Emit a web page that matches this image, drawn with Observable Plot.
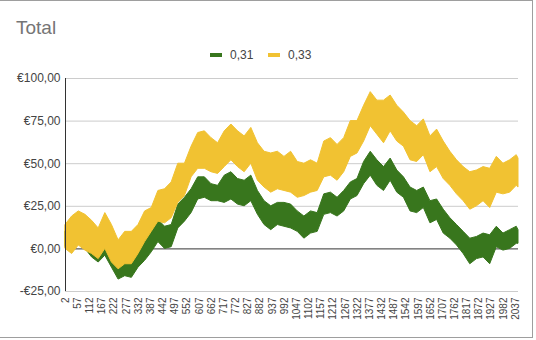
<!DOCTYPE html>
<html>
<head>
<meta charset="utf-8">
<script src="https://cdn.jsdelivr.net/npm/d3@7"></script>
<script src="https://cdn.jsdelivr.net/npm/@observablehq/plot@0.6"></script>
<style>
  body { margin: 0; background: #fff; font-family: "Liberation Sans", Arial, sans-serif; }
  #wrap { position: relative; width: 536px; height: 340px; overflow: hidden; background: #fff; }
  #frame { position: absolute; left: -1px; top: 0; width: 534px; height: 338px; border: 1px solid #9e9e9e; box-sizing: border-box; pointer-events: none; }
  #title { position: absolute; left: 16px; top: 18px; font-size: 19px; line-height: 19px; color: #757575; white-space: nowrap; }
  .lg-sw { position: absolute; width: 12px; height: 4px; top: 53px; }
  .lg-tx { position: absolute; top: 49px; font-size: 12px; line-height: 12px; color: #444; white-space: nowrap; }
  #chart { position: absolute; left: 0; top: 0; }
</style>
</head>
<body>
<div id="wrap">
  <div id="chart"></div>
  <div id="title">Total</div>
  <div id="legend"></div>
  <div id="frame"></div>
</div>
<script>
// Series names and colours
const seriesNames = ["0,31", "0,33"];
const seriesColors = ["#38761d", "#f1c232"];

// Sample positions (row index on the x axis)
const idx = [2,32,62,92,122,152,182,212,242,272,302,332,362,392,422,452,482,512,542,572,
  602,632,662,692,722,752,782,812,842,872,902,932,962,992,1022,1052,1082,1112,1142,1172,
  1202,1232,1262,1292,1322,1352,1382,1412,1442,1472,1502,1532,1562,1592,1622,1652,1682,1712,1742,1772,
  1802,1832,1862,1892,1922,1952,1982,2012,2042,2050];

// Series "0,33" (yellow): upper and lower envelope of the dense trace
const yellowHi = [14,19,22,20,16.5,12,21,14,5,10,10,14,22,24,34,35,39,50,50,60,
  68,69,65,62,69,73,69,66,71,62,57,56,57,54,57,51,50,52,50,63,
  65,61,65,75,75,84,92,87,87,90,84,80,75,72,76,66,70,63,57,52,
  48,45,46,48,47,54,50,52,55,53];
const yellowLo = [0,-3,2,-1,-3,-6,0,-8,-12,-9,-9,-3,4,10,16,15,18,27,31,42,
  47,47,45,44,48,52,48,45,50,40,36,33,35,34,33,30,31,33,34,42,
  43,40,45,54,56,63,72,67,62,69,63,60,52,51,55,45,48,41,37,32,
  28,23,25,28,24,33,32,33,37,36];

// Series "0,31" (green): upper and lower envelope of the dense trace
const greenHi = [10,8,13,11,8,5,9,2,-5,-3,-4,2,6,10,17,13,14,26,30,35,
  42,42,38,37,43,45,41,40,43,34,28,25,27,27,26,22,19,22,21,32,
  33,30,34,39,41,51,57,52,48,53,46,42,36,34,36,28,29,23,18,14,
  10,6,7,9,8,13,9,11,13,11];
const greenLo = [1,-2,3,0,-5,-8,-4,-11,-18,-16,-17,-11,-7,-2,4,0,1,12,16,21,
  29,30,28,28,27,29,26,25,28,20,14,11,14,13,12,10,6,9,10,20,
  21,19,22,29,31,38,43,37,34,40,33,30,22,21,24,15,17,9,6,2,
  -3,-9,-6,-5,-9,1,-1,0,3,3];

// Axis ticks
const xTicks = [2,57,112,167,222,277,332,387,442,497,552,607,662,717,772,827,882,937,992,1047,
  1102,1157,1212,1267,1322,1377,1432,1487,1542,1597,1652,1707,1762,1817,1872,1927,1982,2037];
const yTicks = [-25, 0, 25, 50, 75, 100];

const green = idx.map((x, i) => ({x, lo: greenLo[i], hi: greenHi[i]}));
const yellow = idx.map((x, i) => ({x, lo: yellowLo[i], hi: yellowHi[i]}));

const euro = v => (v < 0 ? "-" : "") + "€" + Math.abs(v).toFixed(2).replace(".", ",");

const chart = Plot.plot({
  width: 536,
  height: 340,
  marginLeft: 65,
  marginRight: 18,
  marginTop: 78,
  marginBottom: 49,
  x: {domain: [2, 2050]},
  y: {domain: [-25, 100]},
  style: {fontFamily: '"Liberation Sans", Arial, sans-serif', fontSize: "12px", color: "#444", background: "transparent"},
  marks: [
    Plot.ruleY(yTicks.filter(d => d !== 0), {stroke: "#cccccc", strokeWidth: 1}),
    Plot.ruleY([0], {stroke: "#333333", strokeWidth: 1}),
    Plot.areaY(green, {x: "x", y1: "lo", y2: "hi", fill: seriesColors[0], stroke: seriesColors[0], strokeWidth: 1}),
    Plot.areaY(yellow, {x: "x", y1: "lo", y2: "hi", fill: seriesColors[1], stroke: seriesColors[1], strokeWidth: 1}),
    Plot.ruleX([2], {stroke: "#333333", strokeWidth: 1}),
    Plot.axisY({ticks: yTicks, tickSize: 0, tickPadding: 5, tickFormat: euro, fontSize: 12, fill: "#444", label: null}),
    Plot.axisX({ticks: xTicks, tickSize: 0, tickRotate: -90, tickPadding: 6, fontSize: 10, fill: "#444", label: null, tickFormat: d => String(d)})
  ]
});
document.getElementById("chart").appendChild(chart);

// Legend
const legend = document.getElementById("legend");
const lgX = [210, 268];
seriesNames.forEach((name, i) => {
  const sw = document.createElement("div");
  sw.className = "lg-sw";
  sw.style.left = lgX[i] + "px";
  sw.style.background = seriesColors[i];
  legend.appendChild(sw);
  const tx = document.createElement("div");
  tx.className = "lg-tx";
  tx.style.left = (lgX[i] + 20) + "px";
  tx.textContent = name;
  legend.appendChild(tx);
});
</script>
</body>
</html>
